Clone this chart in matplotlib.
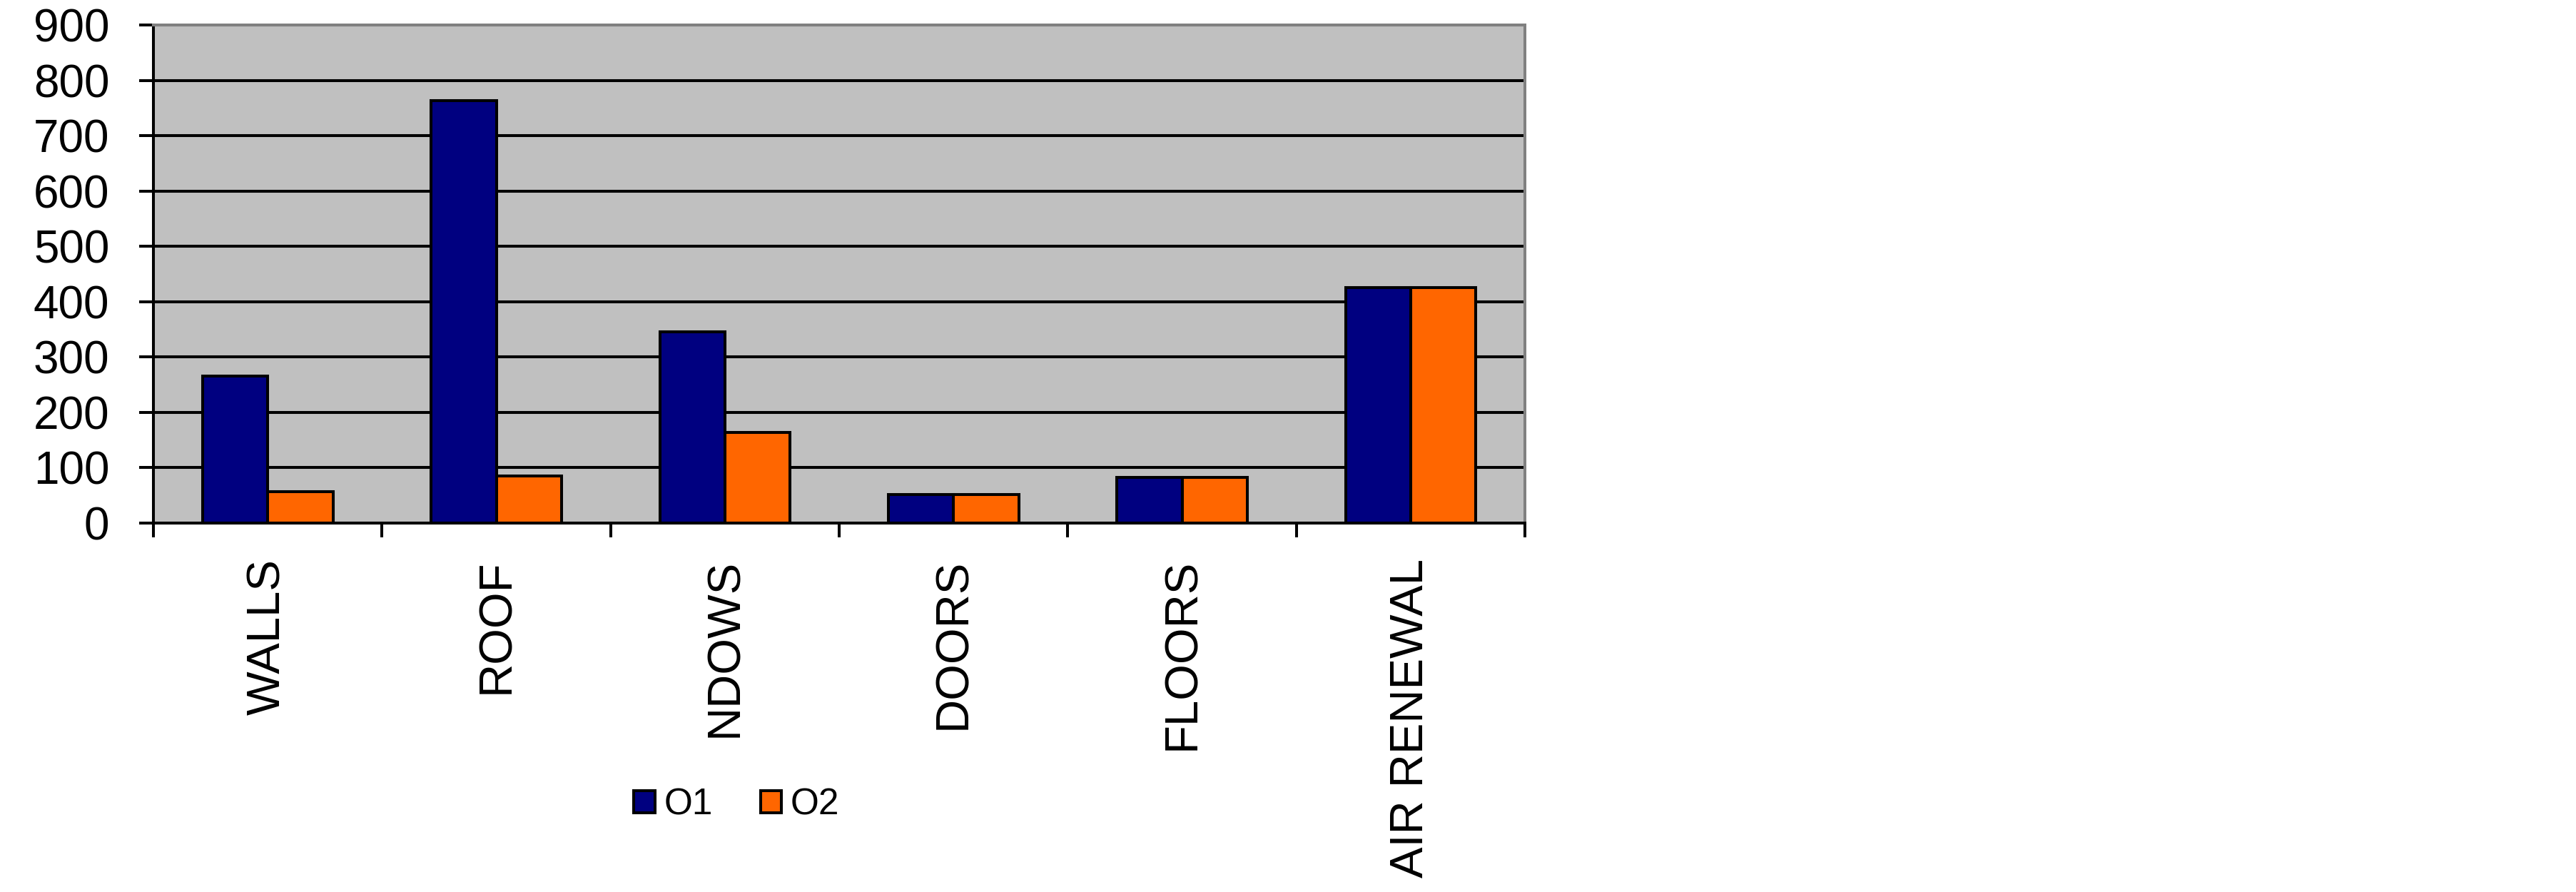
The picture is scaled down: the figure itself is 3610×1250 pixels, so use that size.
import numpy as np
import matplotlib.pyplot as plt

plt.rcParams['font.family'] = ['Liberation Sans', 'DejaVu Sans']

# Data
categories = ['WALLS', 'ROOF', 'NDOWS', 'DOORS', 'FLOORS', 'AIR RENEWAL']
o1 = [265, 763, 346, 51, 83, 425]
o2 = [57, 85, 164, 51, 83, 425]
yticks = [0, 100, 200, 300, 400, 500, 600, 700, 800, 900]

fig = plt.figure(figsize=(36.1, 12.5), dpi=100)
ax = fig.add_axes([0.0596, 0.4136, 0.5324, 0.5584])
ax.set_facecolor('#C0C0C0')

x = np.arange(len(categories))
w = 0.285
lw = 2.9

b1 = ax.bar(x - w / 2, o1, w, color='#000080', edgecolor='black', linewidth=lw,
            label='O1', zorder=3)
b2 = ax.bar(x + w / 2, o2, w, color='#FF6600', edgecolor='black', linewidth=lw,
            label='O2', zorder=3)

ax.set_xlim(-0.5, len(categories) - 0.5)
ax.set_ylim(0, 900)
ax.set_yticks(yticks)
ax.yaxis.grid(True, color='black', linewidth=lw, zorder=1)
ax.set_axisbelow(True)

# category labels at centres, tick marks at the boundaries
ax.set_xticks(x)
ax.set_xticklabels(categories, rotation=90, fontsize=47)
ax.set_xticks(np.arange(len(categories) + 1) - 0.5, minor=True)
ax.tick_params(axis='x', which='major', length=0, pad=36)
ax.tick_params(axis='x', which='minor', length=14.4, width=lw, direction='out')
ax.tick_params(axis='y', length=14.4, width=lw, direction='out',
               labelsize=46, pad=30)

for side in ['left', 'bottom']:
    ax.spines[side].set_color('black')
    ax.spines[side].set_linewidth(lw)
    ax.spines[side].set_zorder(4)
for side in ['top', 'right']:
    ax.spines[side].set_color('#808080')
    ax.spines[side].set_linewidth(lw)
    ax.spines[side].set_zorder(4)

fig.legend(handles=[b1, b2], labels=['O1', 'O2'], loc='center',
           bbox_to_anchor=(0.286, 0.0976), ncol=2, frameon=False, fontsize=37,
           handlelength=0.57, handleheight=0.57, handletextpad=0.25,
           columnspacing=1.3)

fig.savefig('out.png', dpi=100, facecolor='white')
